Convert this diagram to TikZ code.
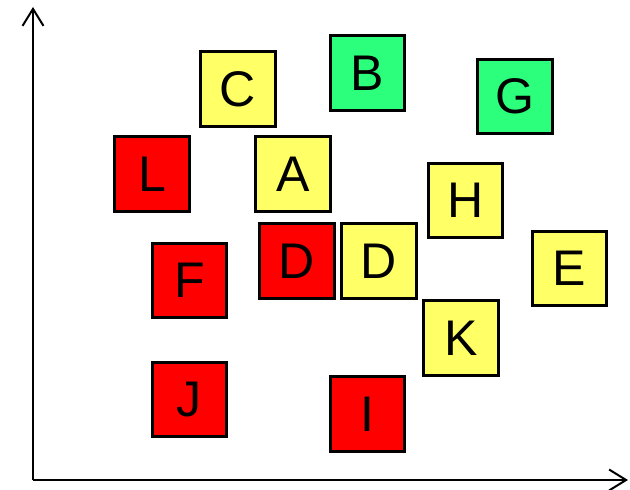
\documentclass[tikz,border=0pt]{standalone}
\usepackage{fontspec}
\setmainfont{Liberation Sans}
\usepackage{xcolor}
\usepackage{tikz}
\usetikzlibrary{arrows.meta}
\definecolor{clrRed}{HTML}{FF0000}
\definecolor{clrYel}{HTML}{FFFF66}
\definecolor{clrGrn}{HTML}{2BFF7B}
\tikzset{
  card/.style={rectangle, draw=black, line width=0.06cm, minimum size=1.5cm,
    inner sep=0pt, font=\fontsize{28.5}{30}\selectfont},
  cardR/.style={card, fill=clrRed},
  cardY/.style={card, fill=clrYel},
  cardG/.style={card, fill=clrGrn},
  axis/.style={-{Straight Barb[length=0.34cm, width=0.42cm, line width=0.04cm]},
    line width=0.04cm, black},
}

\begin{document}
\begin{tikzpicture}[x=0.02cm, y=-0.02cm]

\useasboundingbox (0,0) rectangle (630,490);

% ── axes ───────────────────────────────────────────────────────────────────
\coordinate (o) at (33,480);
\coordinate (ytip) at (33,7);
\coordinate (xtip) at (628,480);
\draw[axis] (o) -- (ytip);
\draw[axis] (o) -- (xtip);

% ── top row ────────────────────────────────────────────────────────────────
\node[cardY] (C) at (238,89) {C};
\node[cardG] (B) at (367.5,73) {B};
\node[cardG] (G) at (515,96.5) {G};

% ── middle ─────────────────────────────────────────────────────────────────
\node[cardR] (L) at (152,174) {L};
\node[cardY] (A) at (293,174) {A};
\node[cardY] (H) at (465.5,200.5) {H};
\node[cardR] (D1) at (297,261) {D};
\node[cardY] (D2) at (379,261) {D};
\node[cardY] (E) at (569.5,268.5) {E};
\node[cardR] (F) at (189.5,280.5) {F};
\node[cardY] (K) at (461,338) {K};

% ── bottom ─────────────────────────────────────────────────────────────────
\node[cardR] (J) at (189.5,399.5) {J};
\node[cardR] (I) at (367.5,414) {I};

\end{tikzpicture}
\end{document}
